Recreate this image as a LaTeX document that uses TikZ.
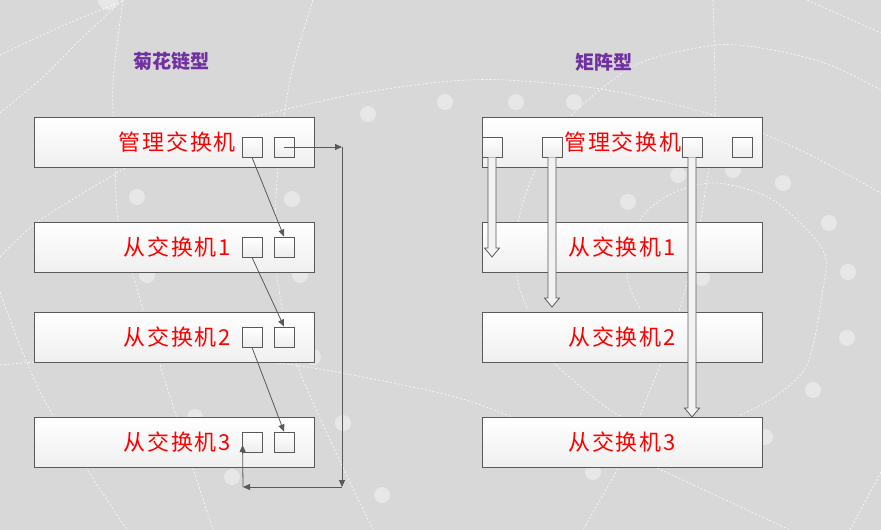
\documentclass[tikz,border=0pt]{standalone}
\usepackage{fontspec}
\usepackage{tikz}
\usetikzlibrary{
    calc,
    arrows.meta,
    shadows
}
\newfontfamily\cjk[LetterSpace=8]{Noto Sans CJK SC}
\newfontfamily\cjktitle{Noto Sans CJK SC}
\definecolor{bggray}{HTML}{D8D8D8}
\definecolor{edge}{HTML}{595959}
\definecolor{titlepurple}{HTML}{7030A0}

\tikzset{
  swbox/.style={draw=edge, line width=0.9pt, minimum width=280pt, minimum height=50pt,
    inner sep=0pt, top color=white, bottom color=black!6,
    drop shadow={opacity=0.15, shadow xshift=1pt, shadow yshift=-1pt}},
  port/.style={draw=edge, line width=0.9pt, minimum size=20pt, inner sep=0pt,
    top color=white, bottom color=black!7,
    drop shadow={opacity=0.2, shadow xshift=1.2pt, shadow yshift=-1.2pt}},
  swlabel/.style={text=red, inner sep=0pt, font={\fontsize{22}{26}\cjk}},
  title/.style={text=titlepurple, inner sep=0pt, font={\fontsize{19}{22}\cjktitle\bfseries}},
  link/.style={draw=edge, line width=0.8pt, -{Triangle[length=7pt,width=6pt]}},
  hollow/.style={draw=edge, line width=0.8pt, fill=white!95!black, line join=miter},
  bgline/.style={white, line width=0.7pt, dash pattern=on 2pt off 2pt, opacity=0.8},
  bgdot/.style={white, opacity=0.4}
}

% hollow block arrow: #1 start (bottom of a port), #2 tip
\newcommand{\hollowarrow}[2]{%
  \draw [hollow] ($(#1)+(-4,0)$) -- ($(#2)+(-4,-9)$) -- ($(#2)+(-7.5,-9)$) -- (#2)
    -- ($(#2)+(7.5,-9)$) -- ($(#2)+(4,-9)$) -- ($(#1)+(4,0)$);}

\begin{document}
\begin{tikzpicture}[x=1pt,y=-1pt]
%\draw [help lines,step=20] (0,0) grid (881,530);
\fill [bggray] (0,0) rectangle (881,530);
\useasboundingbox (0,0) rectangle (881,530);

% background decoration
\begin{scope}
\clip (0,0) rectangle (881,530);
\draw [bgline] plot [smooth] coordinates {(0,55) (60,27) (125,0)};
\draw [bgline] plot [smooth] coordinates {(0,113) (43,77) (80,40) (123,0)};
\draw [bgline] plot [smooth] coordinates {(123,0) (113,83) (115,160) (118,220) (133,275) (160,365) (213,530)};
\draw [bgline] plot [smooth] coordinates {(313,0) (290,80) (277,180) (277,275) (300,372) (373,530)};
\draw [bgline] plot [smooth] coordinates {(0,292) (43,398) (127,530)};
\draw [bgline] plot [smooth] coordinates {(0,257) (40,220) (127,167)};
\draw [bgline] plot [smooth] coordinates {(253,117) (350,95) (440,82) (507,80) (607,90) (713,115) (800,150) (881,193)};
\draw [bgline] plot [smooth] coordinates {(0,365) (150,355) (293,365) (440,393) (507,415) (560,440)};
\draw [bgline] plot [smooth] coordinates {(807,0) (881,33)};
\draw [bgline] plot [smooth] coordinates {(713,0) (715,113) (707,180) (695,250) (680,308) (660,365) (640,415)};
\draw [bgline] plot [smooth] coordinates {(527,308) (517,275) (520,213) (545,150) (580,107) (640,63) (717,45) (773,50) (830,65) (881,90)};
\draw [bgline] plot [smooth] coordinates {(640,308) (627,275) (640,220) (673,193) (717,183) (773,200) (823,250) (822,295) (807,365) (773,398) (740,415)};
\draw [bgline] plot [smooth] coordinates {(530,330) (553,362) (613,412) (660,430)};
\draw [bgline] plot [smooth] coordinates {(657,468) (790,530)};
\draw [bgline] plot [smooth] coordinates {(620,465) (583,530)};
\draw [bgline] plot [smooth] coordinates {(881,472) (850,530)};
\foreach \p in {(137,197),(292,199),(368,114),(445,102),(516,102),(574,102),(628,202),
    (678,175),(733,170),(783,183),(829,223),(147,275),(300,275),(702,278),(848,272),
    (313,357),(847,338),(195,417),(343,423),(813,390),(765,437),(232,477),(382,495),(593,472)}
  \fill [bgdot] \p circle (8pt);
\fill [bgdot] (108,0) circle (10pt);
\end{scope}

% daisy chain
\node [title] (ttl-chain) at (171,61) {菊花链型};
\node [swbox] (cm) at (174,142) {};
\node [swbox] (c1) at (174,247) {};
\node [swbox] (c2) at (174,337) {};
\node [swbox] (c3) at (174,442) {};
\node [swlabel,anchor=east] (cm-l) at (236,142) {管理交换机};
\node [swlabel,anchor=east] (c1-l) at (231,247) {从交换机1};
\node [swlabel,anchor=east] (c2-l) at (231,337) {从交换机2};
\node [swlabel,anchor=east] (c3-l) at (231,442) {从交换机3};
\foreach \n/\y in {cm/147,c1/247,c2/337,c3/442}{
  \node [port] (\n-a) at (252,\y) {};
  \node [port] (\n-b) at (284,\y) {};
}
\draw [link] (cm-a.south) -- (c1-b.north);
\draw [link] (c1-a.south) -- (c2-b.north);
\draw [link] (c2-a.south) -- (c3-b.north);
\coordinate (k1) at (342,147);
\coordinate (k2) at (342,487);
\coordinate (k3) at (243,487);
\draw [link] (cm-b.center) -- (k1);
\draw [link] (k1) -- (k2);
\draw [link] (k2) -- (k3);
\draw [link] (k3) -- ($(c3-a.west)+(1,3)$);

% matrix
\node [title] (ttl-mat) at (604,62) {矩阵型};
\node [swbox] (mm) at (622,142) {};
\node [swbox] (m1) at (622,247) {};
\node [swbox] (m2) at (622,337) {};
\node [swbox] (m3) at (622,442) {};
\node [swlabel] (mm-l) at (623,142) {管理交换机};
\node [swlabel] (m1-l) at (622,247) {从交换机1};
\node [swlabel] (m2-l) at (622,337) {从交换机2};
\node [swlabel] (m3-l) at (622,442) {从交换机3};
\node [port] (mm-a) at (492,147) {};
\node [port] (mm-b) at (552,147) {};
\node [port] (mm-c) at (692,147) {};
\node [port] (mm-d) at (742,147) {};
\coordinate (t-a) at (492,257);
\coordinate (t-b) at (552,307);
\coordinate (t-c) at (692,417);
\hollowarrow{mm-a.south}{t-a}
\hollowarrow{mm-b.south}{t-b}
\hollowarrow{mm-c.south}{t-c}
\end{tikzpicture}
\end{document}
